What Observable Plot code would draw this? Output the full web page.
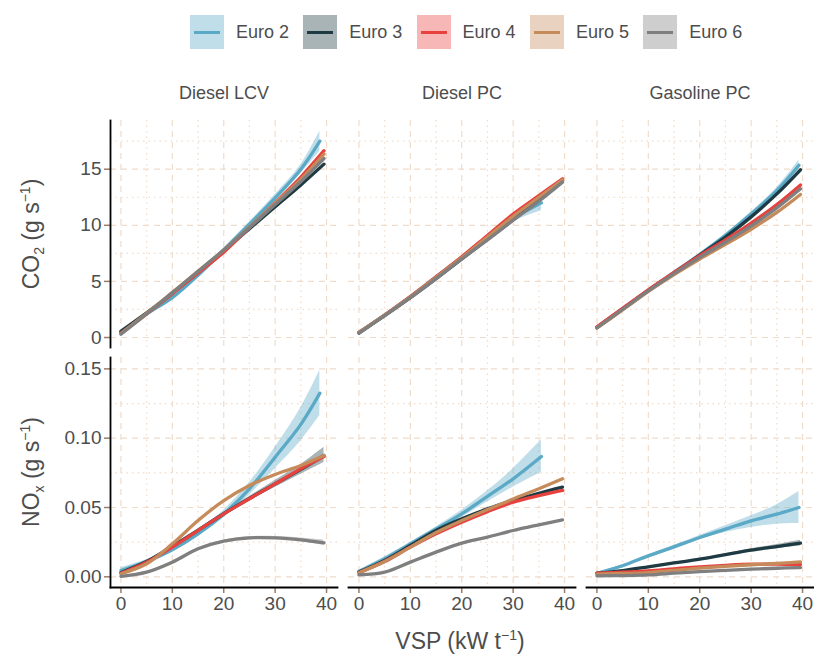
<!DOCTYPE html>
<html><head><meta charset="utf-8">
<script src="https://cdn.jsdelivr.net/npm/d3@7"></script>
<script src="https://cdn.jsdelivr.net/npm/@observablehq/plot@0.6"></script>
<style>
body{margin:0;background:#fff;font-family:"Liberation Sans",Arial,sans-serif;}
#wrap{position:relative;width:814px;height:656px;overflow:hidden;background:#fff}
#wrap svg{position:absolute;left:0}
.lg{position:absolute;top:15px;left:190px;height:34px;display:flex;align-items:center}
.item{display:flex;align-items:center;width:113.3px}
.key{position:relative;width:34px;height:34px;margin-right:12px}
.key i{position:absolute;left:4px;right:4px;top:15.5px;height:3px}
.item span{font-size:18px;color:#4d4d4d}
.yt{position:absolute;font-size:23px;color:#4d4d4d;white-space:nowrap;transform:translate(-50%,-50%) rotate(-90deg)}
.xt{position:absolute;font-size:23px;color:#4d4d4d;white-space:nowrap;transform:translate(-50%,-50%)}
sub,sup{font-size:14px}
</style></head><body><div id="wrap"></div><script>
// ---- data ----
const vsp = [0, 5, 10, 15, 20, 25, 30, 35, 40];
const vehicles = ["Diesel LCV", "Diesel PC", "Gasoline PC"];
const euros = ["Euro 2", "Euro 3", "Euro 4", "Euro 5", "Euro 6"];
const xTicks = [0, 10, 20, 30, 40];
const xMinor = [5, 15, 25, 35];
const co2Ticks = [0, 5, 10, 15];
const co2Minor = [2.5, 7.5, 12.5, 17.5];
const noxTicks = [0, 0.05, 0.10, 0.15];
const noxMinor = [0.025, 0.075, 0.125];

// last VSP reached by each Euro class (replaces the last grid point)
const endDieselLCV = [38.7, 39.5, 39.5, 39.5, 39.5];
const endDieselPC = [35.5, 39.6, 39.6, 39.6, 39.6];
const endGasolinePC = [39.3, 39.6, 39.6, 39.6, 39.6];

// CO2 (g/s) at vsp = 0,5,10,... (last value at end VSP); rows Euro 2..6
const co2DieselLCV = [
  [0.5, 2.1, 3.55, 5.55, 7.8, 10.1, 12.45, 15.0, 17.5],
  [0.55, 2.2, 3.95, 5.8, 7.75, 9.7, 11.65, 13.6, 15.45],
  [0.4, 2.1, 3.9, 5.75, 7.6, 9.8, 12.0, 14.3, 16.65],
  [0.35, 2.15, 4.0, 5.9, 7.8, 9.85, 11.95, 14.1, 16.35],
  [0.3, 2.1, 4.0, 5.9, 7.8, 9.8, 11.85, 13.9, 15.95]
];
const co2DieselPC = [
  [0.45, 2.0, 3.65, 5.4, 7.15, 8.9, 10.6, 12.0],
  [0.4, 1.95, 3.55, 5.25, 7.0, 8.75, 10.5, 12.25, 14.0],
  [0.45, 2.0, 3.65, 5.4, 7.2, 9.1, 11.0, 12.65, 14.15],
  [0.45, 2.0, 3.6, 5.35, 7.1, 8.95, 10.8, 12.5, 14.05],
  [0.4, 1.95, 3.55, 5.25, 7.0, 8.7, 10.45, 12.15, 13.85]
];
const co2GasolinePC = [
  [0.9, 2.55, 4.2, 5.8, 7.4, 9.1, 11.0, 13.1, 15.35],
  [0.9, 2.55, 4.2, 5.75, 7.35, 8.95, 10.75, 12.8, 14.95],
  [0.95, 2.6, 4.25, 5.8, 7.3, 8.7, 10.2, 11.85, 13.6],
  [0.85, 2.45, 4.1, 5.6, 7.0, 8.3, 9.65, 11.15, 12.75],
  [0.85, 2.5, 4.15, 5.7, 7.15, 8.5, 9.95, 11.55, 13.25]
];

// NOx (g/s)
const noxDieselLCV = [
  [0.0046, 0.011, 0.0195, 0.031, 0.0454, 0.0635, 0.0863, 0.110, 0.1325],
  [0.003, 0.011, 0.022, 0.0335, 0.0455, 0.0565, 0.067, 0.0775, 0.0875],
  [0.0026, 0.0106, 0.0214, 0.0334, 0.0454, 0.0563, 0.067, 0.078, 0.0868],
  [0.0022, 0.0094, 0.0238, 0.0406, 0.055, 0.0659, 0.0738, 0.0803, 0.0875],
  [0.0003, 0.0034, 0.0106, 0.0202, 0.0257, 0.0281, 0.0281, 0.0267, 0.0245]
];
const noxDieselPC = [
  [0.0038, 0.013, 0.0238, 0.0345, 0.0454, 0.058, 0.0707, 0.0868],
  [0.0034, 0.0118, 0.0226, 0.0334, 0.0418, 0.049, 0.055, 0.0603, 0.0647],
  [0.003, 0.011, 0.0214, 0.031, 0.0394, 0.047, 0.0538, 0.0585, 0.0623],
  [0.003, 0.011, 0.0214, 0.032, 0.0406, 0.0485, 0.0562, 0.0635, 0.0707],
  [0.0014, 0.0034, 0.0106, 0.0178, 0.0243, 0.0286, 0.0334, 0.0375, 0.0411]
];
const noxGasolinePC = [
  [0.0026, 0.008, 0.0151, 0.0216, 0.0284, 0.0344, 0.0404, 0.0452, 0.05],
  [0.0026, 0.0045, 0.0072, 0.0100, 0.0127, 0.016, 0.0192, 0.0218, 0.0243],
  [0.0026, 0.0033, 0.0043, 0.0058, 0.0072, 0.0083, 0.0091, 0.0091, 0.0089],
  [0.002, 0.0024, 0.0031, 0.0047, 0.0062, 0.0075, 0.0087, 0.0097, 0.0108],
  [0.0007, 0.0009, 0.0014, 0.0026, 0.0038, 0.0047, 0.0055, 0.0062, 0.0067]
];

// visible confidence bands (lower / upper)
const co2Bands = [
  {vehicle: "Diesel LCV", euro: "Euro 2",
   lo: [0.3, 1.95, 3.4, 5.4, 7.65, 9.9, 12.15, 14.6, 16.6],
   hi: [0.7, 2.25, 3.7, 5.7, 7.95, 10.3, 12.75, 15.4, 18.4]},
  {vehicle: "Diesel PC", euro: "Euro 2",
   lo: [0.35, 1.9, 3.55, 5.3, 7.05, 8.75, 10.3, 11.3],
   hi: [0.55, 2.1, 3.75, 5.5, 7.25, 9.05, 10.9, 12.4]},
  {vehicle: "Gasoline PC", euro: "Euro 2",
   lo: [0.8, 2.45, 4.1, 5.7, 7.3, 8.95, 10.8, 12.85, 14.9],
   hi: [1.0, 2.65, 4.3, 5.9, 7.5, 9.25, 11.2, 13.35, 15.8]}
];
const noxBands = [
  {vehicle: "Diesel LCV", euro: "Euro 2",
   lo: [0.0026, 0.0095, 0.018, 0.029, 0.0425, 0.059, 0.078, 0.098, 0.1163],
   hi: [0.0066, 0.0125, 0.021, 0.033, 0.048, 0.068, 0.0935, 0.122, 0.1488]},
  {vehicle: "Diesel LCV", euro: "Euro 3",
   lo: [0.002, 0.010, 0.021, 0.0325, 0.0445, 0.055, 0.0645, 0.074, 0.0825],
   hi: [0.004, 0.012, 0.023, 0.0345, 0.0465, 0.058, 0.0695, 0.081, 0.0935]},
  {vehicle: "Diesel LCV", euro: "Euro 6",
   lo: [0.0, 0.0028, 0.0099, 0.0195, 0.025, 0.0273, 0.0271, 0.0254, 0.0225],
   hi: [0.0008, 0.004, 0.0113, 0.0209, 0.0264, 0.0289, 0.0291, 0.028, 0.0265]},
  {vehicle: "Diesel PC", euro: "Euro 2",
   lo: [0.0028, 0.0115, 0.0225, 0.033, 0.043, 0.054, 0.0647, 0.0755],
   hi: [0.0048, 0.0145, 0.025, 0.036, 0.048, 0.062, 0.078, 0.0988]},
  {vehicle: "Gasoline PC", euro: "Euro 2",
   lo: [0.002, 0.0072, 0.0142, 0.0205, 0.027, 0.032, 0.0356, 0.038, 0.0385],
   hi: [0.0032, 0.0088, 0.016, 0.0227, 0.0298, 0.0368, 0.044, 0.052, 0.0615]},
  {vehicle: "Gasoline PC", euro: "Euro 3",
   lo: [0.0022, 0.0041, 0.0068, 0.0095, 0.0121, 0.0153, 0.0182, 0.0203, 0.0222],
   hi: [0.003, 0.0049, 0.0076, 0.0105, 0.0133, 0.0167, 0.0202, 0.0233, 0.0264]}
];

// ---- styles ----
const lineColors = ["#5aa9c6", "#1e3a43", "#e8423f", "#c68b5a", "#7f7f7f"];
const gridColor = "#f0dccb";
const tickColor = "#9a7d66";
const textColor = "#4d4d4d";
const font = '"Liberation Sans", Arial, sans-serif';

const ends = {"Diesel LCV": endDieselLCV, "Diesel PC": endDieselPC, "Gasoline PC": endGasolinePC};
function xsFor(vehicle, k, n) {
  return vsp.slice(0, n).map((x, i) => i === n - 1 ? ends[vehicle][k] : x);
}
function lineRows(tables) {
  const out = [];
  vehicles.forEach((v, j) => tables[j].forEach((vals, k) => {
    const xs = xsFor(v, k, vals.length);
    vals.forEach((y, i) => out.push({vehicle: v, euro: euros[k], x: xs[i], y}));
  }));
  return out;
}
function bandRows(bands) {
  const out = [];
  bands.forEach(b => {
    const k = euros.indexOf(b.euro);
    const xs = xsFor(b.vehicle, k, b.lo.length);
    b.lo.forEach((lo, i) => out.push({vehicle: b.vehicle, euro: b.euro, x: xs[i], lo, hi: b.hi[i]}));
  });
  return out;
}

function row({lines, bands, yDomain, yTicks, yMinor, yFormat, top, height, marginTop, marginBottom}) {
  const marks = [
    Plot.ruleX(xMinor, {x: d => d, stroke: gridColor, strokeWidth: 1.2, strokeDasharray: "1.5,4"}),
    Plot.ruleX(xTicks, {x: d => d, stroke: gridColor, strokeWidth: 1.2, strokeDasharray: "6,5"}),
    Plot.ruleY(yMinor, {y: d => d, stroke: gridColor, strokeWidth: 1.2, strokeDasharray: "1.5,4"}),
    Plot.ruleY(yTicks, {y: d => d, stroke: gridColor, strokeWidth: 1.2, strokeDasharray: "6,5"}),
    Plot.areaY(bands, {x: "x", y1: "lo", y2: "hi", z: "euro", fill: "euro", fillOpacity: 0.38, fx: "vehicle", curve: "catmull-rom"}),
    Plot.line(lines, {x: "x", y: "y", z: "euro", stroke: "euro", strokeWidth: 3.3, fx: "vehicle", curve: "catmull-rom"}),
    Plot.axisY({ticks: yTicks, tickFormat: yFormat, tickSize: 6, tickPadding: 3, stroke: tickColor, strokeWidth: 1.5, fill: textColor, fontSize: 19, label: null}),
    Plot.frame({anchor: "left", facetAnchor: "left", stroke: "#000", strokeWidth: 1.8})
  ];
  if (top) {
    marks.push(Plot.text(vehicles, {fx: d => d, text: d => d, frameAnchor: "top", dy: -34, fontSize: 18, fill: textColor}));
  } else {
    marks.push(Plot.axisX({ticks: xTicks, tickSize: 6, tickPadding: 3, stroke: tickColor, strokeWidth: 1.5, fill: textColor, fontSize: 19, label: null}));
    marks.push(Plot.frame({anchor: "bottom", stroke: "#000", strokeWidth: 1.8}));
  }
  const svg = Plot.plot({
    width: 814, height, marginLeft: 109, marginRight: 1, marginTop, marginBottom,
    style: {fontFamily: font, fontSize: "18px", color: textColor, background: "transparent", overflow: "visible"},
    fx: {domain: vehicles, paddingInner: 0.047, paddingOuter: 0, axis: null, label: null},
    x: {domain: [-2.03, 42.13], label: null, axis: null},
    y: {domain: yDomain, label: null, axis: null},
    color: {domain: euros, range: lineColors},
    marks
  });
  svg.style.top = (top ? 70 : 350) + "px";
  return svg;
}

const wrap = document.getElementById("wrap");
wrap.appendChild(row({
  lines: lineRows([co2DieselLCV, co2DieselPC, co2GasolinePC]),
  bands: bandRows(co2Bands),
  yDomain: [-0.89, 19.34], yTicks: co2Ticks, yMinor: co2Minor, yFormat: d3.format("d"),
  top: true, height: 280, marginTop: 50, marginBottom: 3
}));
wrap.appendChild(row({
  lines: lineRows([noxDieselLCV, noxDieselPC, noxGasolinePC]),
  bands: bandRows(noxBands),
  yDomain: [-0.0077, 0.1582], yTicks: noxTicks, yMinor: noxMinor, yFormat: d3.format(".2f"),
  top: false, height: 306, marginTop: 7, marginBottom: 69
}));

// legend
const lg = document.createElement("div");
lg.className = "lg";
euros.forEach((e, k) => {
  const c = d3.color(lineColors[k]); c.opacity = 0.38;
  const it = document.createElement("div");
  it.className = "item";
  it.innerHTML = `<div class="key" style="background:${c.formatRgb()}"><i style="background:${lineColors[k]}"></i></div><span>${e}</span>`;
  lg.appendChild(it);
});
wrap.appendChild(lg);

// axis titles
function addTitle(cls, html, x, y) {
  const d = document.createElement("div");
  d.className = cls; d.innerHTML = html;
  d.style.left = x + "px"; d.style.top = y + "px";
  wrap.appendChild(d);
}
addTitle("yt", "CO<sub>2</sub> (g s<sup>&minus;1</sup>)", 31.5, 234);
addTitle("yt", "NO<sub>x</sub> (g s<sup>&minus;1</sup>)", 31.5, 472);
addTitle("xt", "VSP (kW t<sup>&minus;1</sup>)", 460, 641);
</script></body></html>
